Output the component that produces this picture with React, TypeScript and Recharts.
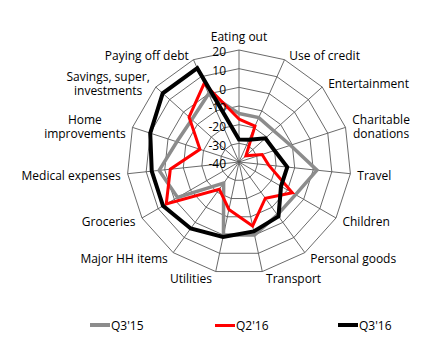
import { RadarChart, Radar, PolarGrid, PolarAngleAxis, PolarRadiusAxis, Legend } from 'recharts';

const CATEGORIES = [
  'Eating out',
  'Use of credit',
  'Entertainment',
  'Charitable donations',
  'Travel',
  'Children',
  'Personal goods',
  'Transport',
  'Utilities',
  'Major HH items',
  'Groceries',
  'Medical expenses',
  'Home improvements',
  'Savings, super, investments',
  'Paying off debt',
];
const Q3_15 = [-14, -14, -15, -11, 2, -5, -5, 0, 0, -26, -2, 3, -5, -6, 0];
const Q2_16 = [-17, -19, -35, -27, -24, -7, -16, -5, -14, -22, 5, -3, -18, -4, 6];
const Q3_16 = [-28, -27, -21, -20, -14, -14, -4, -2, 1, 4, 7, 7, 10, 15, 15];
const RADIUS_TICKS = [-40, -30, -20, -10, 0, 10, 20];

// wrapped category labels
const LABEL_LINES: Record<string, string[]> = {
  'Charitable donations': ['Charitable', 'donations'],
  'Home improvements': ['Home', 'improvements'],
  'Savings, super, investments': ['Savings, super,', 'investments'],
};

const SERIES = [
  { key: 'q315', name: "Q3'15", color: '#8c8c8c', width: 3.5 },
  { key: 'q216', name: "Q2'16", color: '#ff0000', width: 3 },
  { key: 'q316', name: "Q3'16", color: '#000000', width: 4 },
];

const FONT = '"Open Sans", sans-serif';
const CX = 231;
const CY = 154;
const R = 112;
const LINE_H = 14;

const data = CATEGORIES.map((category, i) => ({
  category,
  q315: Q3_15[i],
  q216: Q2_16[i],
  q316: Q3_16[i],
}));

let ctx: CanvasRenderingContext2D | null = null;
function measure(text: string) {
  if (!ctx) ctx = document.createElement('canvas').getContext('2d');
  if (!ctx) return text.length * 6.5;
  ctx.font = `12px ${FONT}`;
  return ctx.measureText(text).width;
}

function AngleTick(props: any) {
  const name = props.payload.value;
  const i = CATEGORIES.indexOf(name);
  const theta = (i * 2 * Math.PI) / CATEGORIES.length;
  const s = Math.sin(theta);
  const c = Math.cos(theta);
  const vx = CX + R * s;
  const vy = CY - R * c;
  const lines = LABEL_LINES[name] ?? [name];
  const w = Math.max(...lines.map(measure));
  const h = lines.length * LINE_H;
  let bx: number;
  let by: number;
  if (Math.abs(s) < 0.1) {
    bx = vx;
    by = c > 0 ? vy - 13 : vy + 13;
  } else {
    const gap = 3 + 4 * Math.abs(s);
    bx = s > 0 ? vx + gap + w / 2 : vx - gap - w / 2;
    by = vy - 6 * c + 1;
  }
  return (
    <text textAnchor="middle" fontSize={12} fontFamily={FONT} fill="#000">
      {lines.map((line, k) => (
        <tspan key={k} x={bx} y={by - h / 2 + (k + 0.5) * LINE_H + 4.3}>
          {line}
        </tspan>
      ))}
    </text>
  );
}

function RadiusTick({ x, y, payload }: any) {
  return (
    <text x={x - 13} y={y + 6.3} textAnchor="end" fontSize={12} fontFamily={FONT} fill="#000">
      {payload.value}
    </text>
  );
}

const LEGEND_X = [82, 207, 330];

function renderLegend() {
  return (
    <div style={{ position: 'relative', height: 30, fontFamily: FONT, fontSize: 12, color: '#000' }}>
      {SERIES.map((s, i) => (
        <div
          key={s.key}
          style={{ position: 'absolute', left: LEGEND_X[i], top: 4, height: 16, display: 'flex', alignItems: 'center' }}
        >
          <span style={{ display: 'inline-block', width: 20, height: s.width, background: s.color }} />
          <span style={{ marginLeft: 1 }}>{s.name}</span>
        </div>
      ))}
    </div>
  );
}

export default function App() {
  return (
    <div style={{ width: 406, height: 334 }}>
      <RadarChart
        width={406}
        height={334}
        data={data}
        cx={CX}
        cy={CY}
        outerRadius={R}
        margin={{ top: 0, right: 0, bottom: 0, left: 0 }}
      >
        <PolarGrid gridType="polygon" stroke="#595959" strokeWidth={0.9} />
        <PolarAngleAxis dataKey="category" tick={AngleTick} tickLine={false} axisLine={false} />
        <PolarRadiusAxis
          angle={90}
          domain={[-40, 20]}
          ticks={RADIUS_TICKS}
          tickCount={7}
          axisLine={false}
          tick={RadiusTick}
        />
        {SERIES.map((s) => (
          <Radar
            key={s.key}
            name={s.name}
            dataKey={s.key}
            stroke={s.color}
            strokeWidth={s.width}
            fill="none"
            fillOpacity={0}
            dot={false}
            isAnimationActive={false}
          />
        ))}
        <Legend
          verticalAlign="bottom"
          content={renderLegend}
          wrapperStyle={{ left: 0, top: 305, bottom: 'auto', width: 406, height: 30 }}
        />
      </RadarChart>
    </div>
  );
}
